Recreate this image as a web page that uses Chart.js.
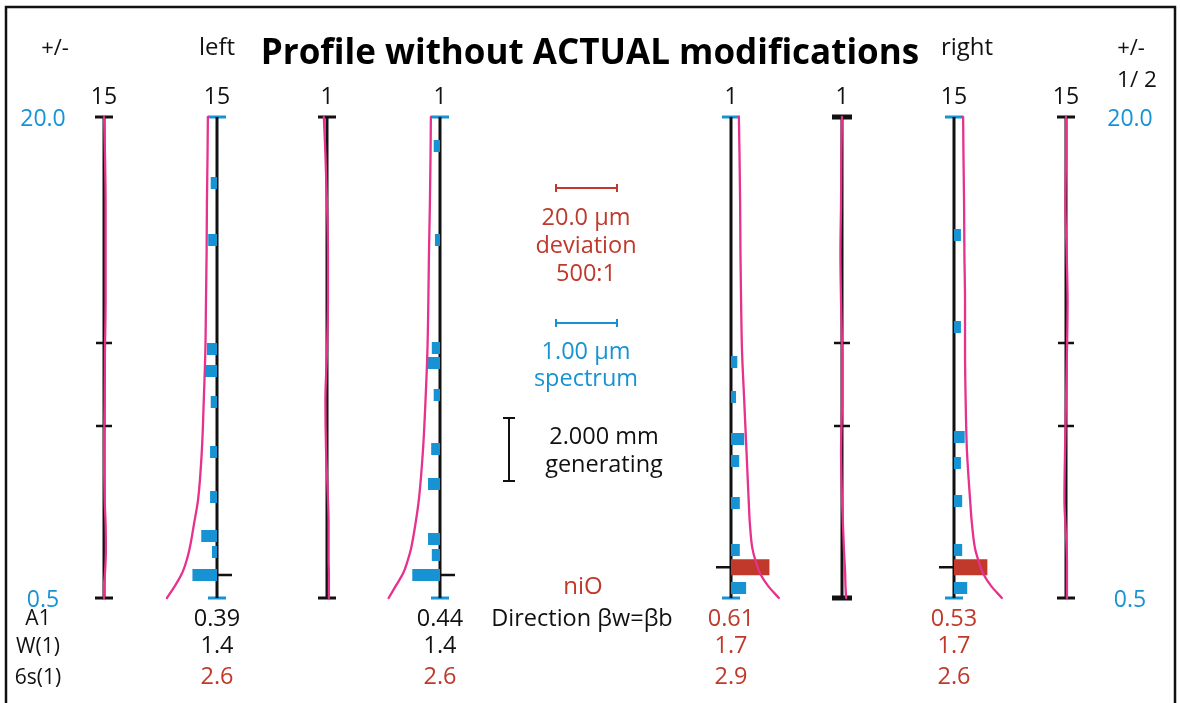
<!DOCTYPE html>
<html>
<head>
<meta charset="utf-8">
<title>Profile without ACTUAL modifications</title>
<script src="https://cdn.jsdelivr.net/npm/chart.js@4.4.1/dist/chart.umd.min.js"></script>
<style>
	html, body { margin: 0; padding: 0; background: #fff; }
	#wrap { width: 1180px; height: 703px; }
</style>
</head>
<body>
<div id="wrap"><canvas id="chart" width="1180" height="703"></canvas></div>
<script>
// heights along the profile where the traces were read
const profileY = [20.0, 18.5, 16.5, 14.5, 12.5, 10.5, 8.5, 6.5, 4.5, 3.5, 2.5, 2.0, 1.5, 1.0, 0.5]

// profile deviation of each trace, µm
const dev1 = [0, 0.3, 0.5, 0.5, 0.5, 0.3, 0.2, 0, 0.2, 0.5, 0.6, 0.5, 0.3, 0, 0]
const dev2 = [-2.9, -3.0, -3.2, -3.3, -3.5, -3.7, -4.2, -4.8, -6.0, -7.3, -8.7, -9.7, -11.1, -13.3, -15.9]
const dev3 = [-1.0, -0.5, 0, 0.3, 0.3, 0, -0.5, -0.3, 0.3, 0.5, 0.5, 0.5, 0.6, 0.6, 0.6]
const dev4 = [-2.9, -3.0, -3.2, -3.5, -3.7, -4.0, -4.6, -5.4, -6.7, -7.8, -9.2, -10.3, -11.7, -14.0, -16.3]
const dev5 = [2.5, 2.7, 2.9, 3.0, 3.2, 3.5, 4.2, 4.9, 5.6, 6.0, 6.8, 7.8, 9.2, 11.7, 15.2]
const dev6 = [0, -0.2, -0.3, -0.5, -0.3, 0, 0, -0.3, 0, 0.3, 0.6, 0.8, 1.0, 1.1, 1.3]
const dev7 = [2.9, 3.0, 3.2, 3.3, 3.5, 3.5, 3.7, 4.1, 5.1, 5.7, 6.7, 7.8, 9.2, 11.7, 15.2]
const dev8 = [0, 0, -0.2, 0.2, 0.5, 0.3, 0, -0.3, -0.5, -0.2, 0.2, 0.3, 0.3, 0.3, 0.3]

// spectrum (order height, amplitude µm)
const specY2 = [17.32, 15.01, 10.59, 9.70, 8.45, 6.42, 4.59, 3.01, 2.36]
const specA2 = [0.10, 0.14, 0.16, 0.19, 0.10, 0.11, 0.11, 0.25, 0.08]
const specY4 = [18.82, 15.01, 10.64, 10.03, 8.73, 6.54, 5.12, 2.89, 2.24]
const specA4 = [0.10, 0.08, 0.13, 0.19, 0.10, 0.14, 0.19, 0.19, 0.13]
const specY5 = [10.07, 8.65, 6.95, 6.05, 4.35, 2.45, 0.91]
const specA5 = [0.10, 0.08, 0.21, 0.13, 0.14, 0.14, 0.24]
const specY7 = [15.22, 11.49, 7.03, 5.97, 4.43, 2.45, 0.91]
const specA7 = [0.11, 0.11, 0.17, 0.11, 0.13, 0.13, 0.21]

// evaluated order per spectrum column
const a1Y = [1.43, 1.43, 1.75, 1.75]
const a1Vals = [0.39, 0.44, 0.61, 0.53]
const w1Vals = [1.4, 1.4, 1.7, 1.7]
const s1Vals = [2.6, 2.6, 2.9, 2.6]

const columnTitles = ['15', '15', '1', '1', '1', '1', '15', '15']
const rowLabels = ['A1', 'W(1)', '6s(1)']
const yTicks = [0.5, 20.0]
const markY = [10.84, 7.47]

// legend scales: 20.0 µm deviation, 1.00 µm spectrum, 2.000 mm generating
const legendDev = 20.0
const legendSpec = 1.0
const legendGen = 2.56

//layout / style (not data)
const BLACK = '#111111'
const BLUE = '#1793d3'
const RED = '#c0392b'
const PINK = '#e6318d'
const FONT = 'Open Sans'
const TXT = 23.5
const DEV_PX = 63 / 20
const SPEC_PX = 63 / 1.0

const columns = [
	{ x: 104, ends: 'black', marks: true },
	{ x: 217, ends: 'blue', side: -1, specY: specY2, specA: specA2, result: 0 },
	{ x: 327, ends: 'black' },
	{ x: 440, ends: 'blue', side: -1, specY: specY4, specA: specA4, result: 1 },
	{ x: 731, ends: 'blue', side: 1, specY: specY5, specA: specA5, result: 2 },
	{ x: 842, ends: 'heavy', marks: true },
	{ x: 954, ends: 'blue', side: 1, specY: specY7, specA: specA7, result: 3 },
	{ x: 1066, ends: 'black', marks: true },
]
const traces = [dev1, dev2, dev3, dev4, dev5, dev6, dev7, dev8]
const redResult = [false, false, true, true]
const rowY = [619, 646, 677]

function segs(list) {
	let pts = []
	list.forEach(([x0, y0, x1, y1]) => {
		pts.push({ x: x0, y: y0 }, { x: x1, y: y1 }, { x: x1, y: null })
	})
	return pts
}

function lineSet(data, color, width, extra) {
	return Object.assign(
		{
			data: data,
			showLine: true,
			borderColor: color,
			borderWidth: width,
			borderCapStyle: 'butt',
			pointRadius: 0,
			clip: false,
			spanGaps: false,
		},
		extra || {}
	)
}

let datasets = []

// pink profile traces, on top; smoothed along the profile direction
traces.forEach((dev, i) => {
	let cx = columns[i].x
	let pts = profileY.map((y, k) => ({ x: cx + dev[k] * DEV_PX, y: y }))
	datasets.push(
		lineSet(pts, PINK, 2.3, {
			type: 'line',
			indexAxis: 'y',
			cubicInterpolationMode: 'monotone',
			borderCapStyle: 'round',
		})
	)
})

// spectrum bars
let blueBars = []
let blueA1 = []
let redA1 = []
let resultTicks = []
columns.forEach((col) => {
	if (!col.specY) return
	col.specY.forEach((y, k) => {
		blueBars.push([col.x, y, col.x + col.side * col.specA[k] * SPEC_PX, y])
	})
	let r = col.result
	let bar = [col.x, a1Y[r], col.x + col.side * a1Vals[r] * SPEC_PX, a1Y[r]]
	if (redResult[r]) redA1.push(bar)
	else blueA1.push(bar)
	resultTicks.push([col.x, a1Y[r], col.x - col.side * 15, a1Y[r]])
})
datasets.push(lineSet(segs(redA1), RED, 16))
datasets.push(lineSet(segs(blueA1), BLUE, 12))
datasets.push(lineSet(segs(blueBars), BLUE, 12))

// axes and their ticks
const yTop = yTicks[1]
const yBottom = yTicks[0]
let axisLines = []
let blackEnds = []
let heavyEnds = []
let blueEnds = []
let marks = []
columns.forEach((col) => {
	axisLines.push([col.x, yBottom, col.x, yTop])
	let ends = [
		[col.x - 9, yTop, col.x + 9, yTop],
		[col.x - 9, yBottom, col.x + 9, yBottom],
	]
	if (col.ends === 'blue') blueEnds.push(...ends)
	else if (col.ends === 'heavy') heavyEnds.push(...ends.map((e) => [e[0] - 1, e[1], e[2] + 1, e[3]]))
	else blackEnds.push(...ends)
	if (col.marks) markY.forEach((y) => marks.push([col.x - 8, y, col.x + 8, y]))
})
datasets.push(lineSet(segs(resultTicks), BLACK, 2.5))
datasets.push(lineSet(segs(axisLines), BLACK, 3))
datasets.push(lineSet(segs(blackEnds), BLACK, 3))
datasets.push(lineSet(segs(heavyEnds), BLACK, 5))
datasets.push(lineSet(segs(blueEnds), BLUE, 3))
datasets.push(lineSet(segs(marks), BLACK, 2.5))

// legend bars
const legendX = 555
const legendRedY = 17.12
const legendBlueY = 11.65
const legendGenX = 509
const legendGenY = 6.52
let devLen = legendDev * DEV_PX
let specLen = legendSpec * SPEC_PX
datasets.push(
	lineSet(
		segs([
			[legendX, legendRedY, legendX + devLen, legendRedY],
			[legendX + 1, legendRedY - 0.16, legendX + 1, legendRedY + 0.16],
			[legendX + devLen - 1, legendRedY - 0.16, legendX + devLen - 1, legendRedY + 0.16],
		]),
		RED,
		2
	)
)
datasets.push(
	lineSet(
		segs([
			[legendX, legendBlueY, legendX + specLen, legendBlueY],
			[legendX + 1, legendBlueY - 0.16, legendX + 1, legendBlueY + 0.16],
			[legendX + specLen - 1, legendBlueY - 0.16, legendX + specLen - 1, legendBlueY + 0.16],
		]),
		BLUE,
		2
	)
)
datasets.push(
	lineSet(
		segs([
			[legendGenX, legendGenY - legendGen / 2, legendGenX, legendGenY + legendGen / 2],
			[legendGenX - 6, legendGenY + legendGen / 2, legendGenX + 6, legendGenY + legendGen / 2],
			[legendGenX - 6, legendGenY - legendGen / 2, legendGenX + 6, legendGenY - legendGen / 2],
		]),
		BLACK,
		2
	)
)

// texts drawn in the chart canvas
const textPlugin = {
	id: 'profileTexts',
	afterDraw(chart) {
		const ctx = chart.ctx
		const ys = chart.scales.y
		const put = (txt, x, y, color, size) => {
			ctx.font = size + 'px "' + FONT + '"'
			ctx.fillStyle = color
			ctx.fillText(txt, x, y)
		}
		ctx.save()
		ctx.textAlign = 'center'
		ctx.textBaseline = 'middle'

		// frame
		ctx.strokeStyle = BLACK
		ctx.lineWidth = 2.5
		ctx.strokeRect(6, 7, 1169, 720)

		put('+/-', 55, 49, BLACK, 22)
		put('left', 217, 48, BLACK, 24)
		put('right', 967, 48, BLACK, 24)
		put('+/-', 1131, 49, BLACK, 22)
		put('1/ 2', 1137, 81, BLACK, 22.5)

		columns.forEach((col, i) => put(columnTitles[i], col.x, 97, BLACK, 23))

		yTicks.forEach((v) => {
			let py = ys.getPixelForValue(v) + 2
			put(v.toFixed(1), 43, py, BLUE, 23)
			put(v.toFixed(1), 1130, py, BLUE, 23)
		})

		put(legendDev.toFixed(1) + ' µm', 586, 218, RED, TXT)
		put('deviation', 586, 246, RED, TXT)
		put('500:1', 586, 274, RED, TXT)
		put(legendSpec.toFixed(2) + ' µm', 586, 352, BLUE, TXT)
		put('spectrum', 586, 379, BLUE, TXT)
		put('2.000 mm', 604, 437, BLACK, TXT)
		put('generating', 604, 465, BLACK, TXT)

		put('niO', 583, 587, RED, 24)
		put('Direction βw=βb', 582, rowY[0], BLACK, TXT)
		rowLabels.forEach((lbl, i) => put(lbl, 38, rowY[i] + (i ? 1 : 0), BLACK, 21))

		columns.forEach((col) => {
			if (col.result === undefined) return
			let r = col.result
			let red = redResult[r]
			put(a1Vals[r].toFixed(2), col.x, rowY[0], red ? RED : BLACK, TXT)
			put(w1Vals[r].toFixed(1), col.x, rowY[1], red ? RED : BLACK, TXT)
			put(s1Vals[r].toFixed(1), col.x, rowY[2], RED, TXT)
		})
		ctx.restore()
	},
}

const chart = new Chart(document.getElementById('chart'), {
	type: 'scatter',
	data: { datasets: datasets },
	options: {
		responsive: false,
		animation: false,
		devicePixelRatio: 1,
		layout: { padding: { left: 0, right: 0, top: 0, bottom: 105 } },
		scales: {
			x: { type: 'linear', display: false, min: 0, max: 1180 },
			y: { type: 'linear', display: false, min: 0.5, max: 20.0 },
		},
		plugins: {
			legend: { display: false },
			tooltip: { enabled: false },
			title: {
				display: true,
				text: 'Profile without ACTUAL modifications',
				color: '#000',
				font: { family: FONT, size: 35, weight: 'bold', lineHeight: 1.2 },
				padding: { top: 33, bottom: 42 },
			},
		},
	},
	plugins: [textPlugin],
})
</script>
</body>
</html>
